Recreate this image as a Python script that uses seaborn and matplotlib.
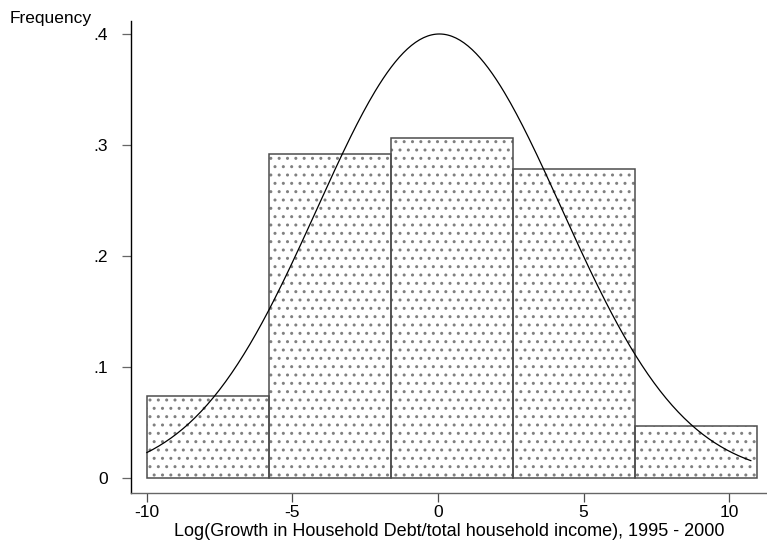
import numpy as np
import matplotlib
matplotlib.use("Agg")
import matplotlib.pyplot as plt
import seaborn as sns

# histogram bins (fraction of observations per bin)
bin_edges = [-10.0, -5.81, -1.62, 2.57, 6.76, 10.95]
bin_centers = [-7.905, -3.715, 0.475, 4.665, 8.855]
fractions = [0.074, 0.292, 0.306, 0.278, 0.047]

# overlaid normal curve (scaled so the peak is .4)
norm_mean = 0.05
norm_sd = 4.2
norm_peak = 0.4
curve_range = (-10.0, 10.75)

y_ticks = [0, 0.1, 0.2, 0.3, 0.4]
y_labels = ["0", ".1", ".2", ".3", ".4"]
x_ticks = [-10, -5, 0, 5, 10]

sns.set_style("white")
plt.rcParams["font.family"] = ["Liberation Sans", "DejaVu Sans"]
plt.rcParams["text.color"] = "black"
plt.rcParams["axes.labelcolor"] = "black"
plt.rcParams["xtick.labelcolor"] = "black"
plt.rcParams["ytick.labelcolor"] = "black"

fig = plt.figure(figsize=(7.67, 5.45), dpi=100)
ax = fig.add_axes([131 / 767, 52 / 545, 1 - 131 / 767, (493 - 21) / 545])

# dotted fill
sns.histplot(x=bin_centers, weights=fractions, bins=bin_edges, stat="count",
             color="white", edgecolor="0.5", linewidth=0, hatch="..",
             alpha=1, ax=ax)
# bar outlines
sns.histplot(x=bin_centers, weights=fractions, bins=bin_edges, stat="count",
             fill=False, color="0.3", edgecolor="0.3", linewidth=1.1, ax=ax)

xs = np.linspace(curve_range[0], curve_range[1], 300)
ys = norm_peak * np.exp(-0.5 * ((xs - norm_mean) / norm_sd) ** 2)
sns.lineplot(x=xs, y=ys, color="black", linewidth=0.9, ax=ax)

ax.set_xlim(-10.54, 11.3)
ax.set_ylim(-0.0135, 0.4117)
ax.set_xticks(x_ticks)
ax.set_xticklabels([str(t) for t in x_ticks])
ax.set_yticks(y_ticks)
ax.set_yticklabels(y_labels)

for side in ["top", "right"]:
    ax.spines[side].set_visible(False)
ax.spines["left"].set_color("black")
ax.spines["left"].set_linewidth(1.0)
ax.spines["bottom"].set_color("0.4")
ax.spines["bottom"].set_linewidth(1.0)

ax.tick_params(axis="y", direction="out", length=6.5, width=0.9, color="0.4",
               pad=10, labelsize=12.5, left=True, labelcolor="black")
ax.tick_params(axis="x", direction="out", length=6.5, width=0.9, color="0.3",
               pad=2, labelsize=12.5, bottom=True, labelcolor="black")

ax.set_ylabel("")
ax.set_xlabel("Log(Growth in Household Debt/total household income), 1995 - 2000",
              fontsize=13, labelpad=2, color="black")
fig.text(10 / 767, 1 - 23 / 545, "Frequency", fontsize=12.5, va="baseline",
         ha="left", color="black")

fig.savefig("out.png", dpi=100)
